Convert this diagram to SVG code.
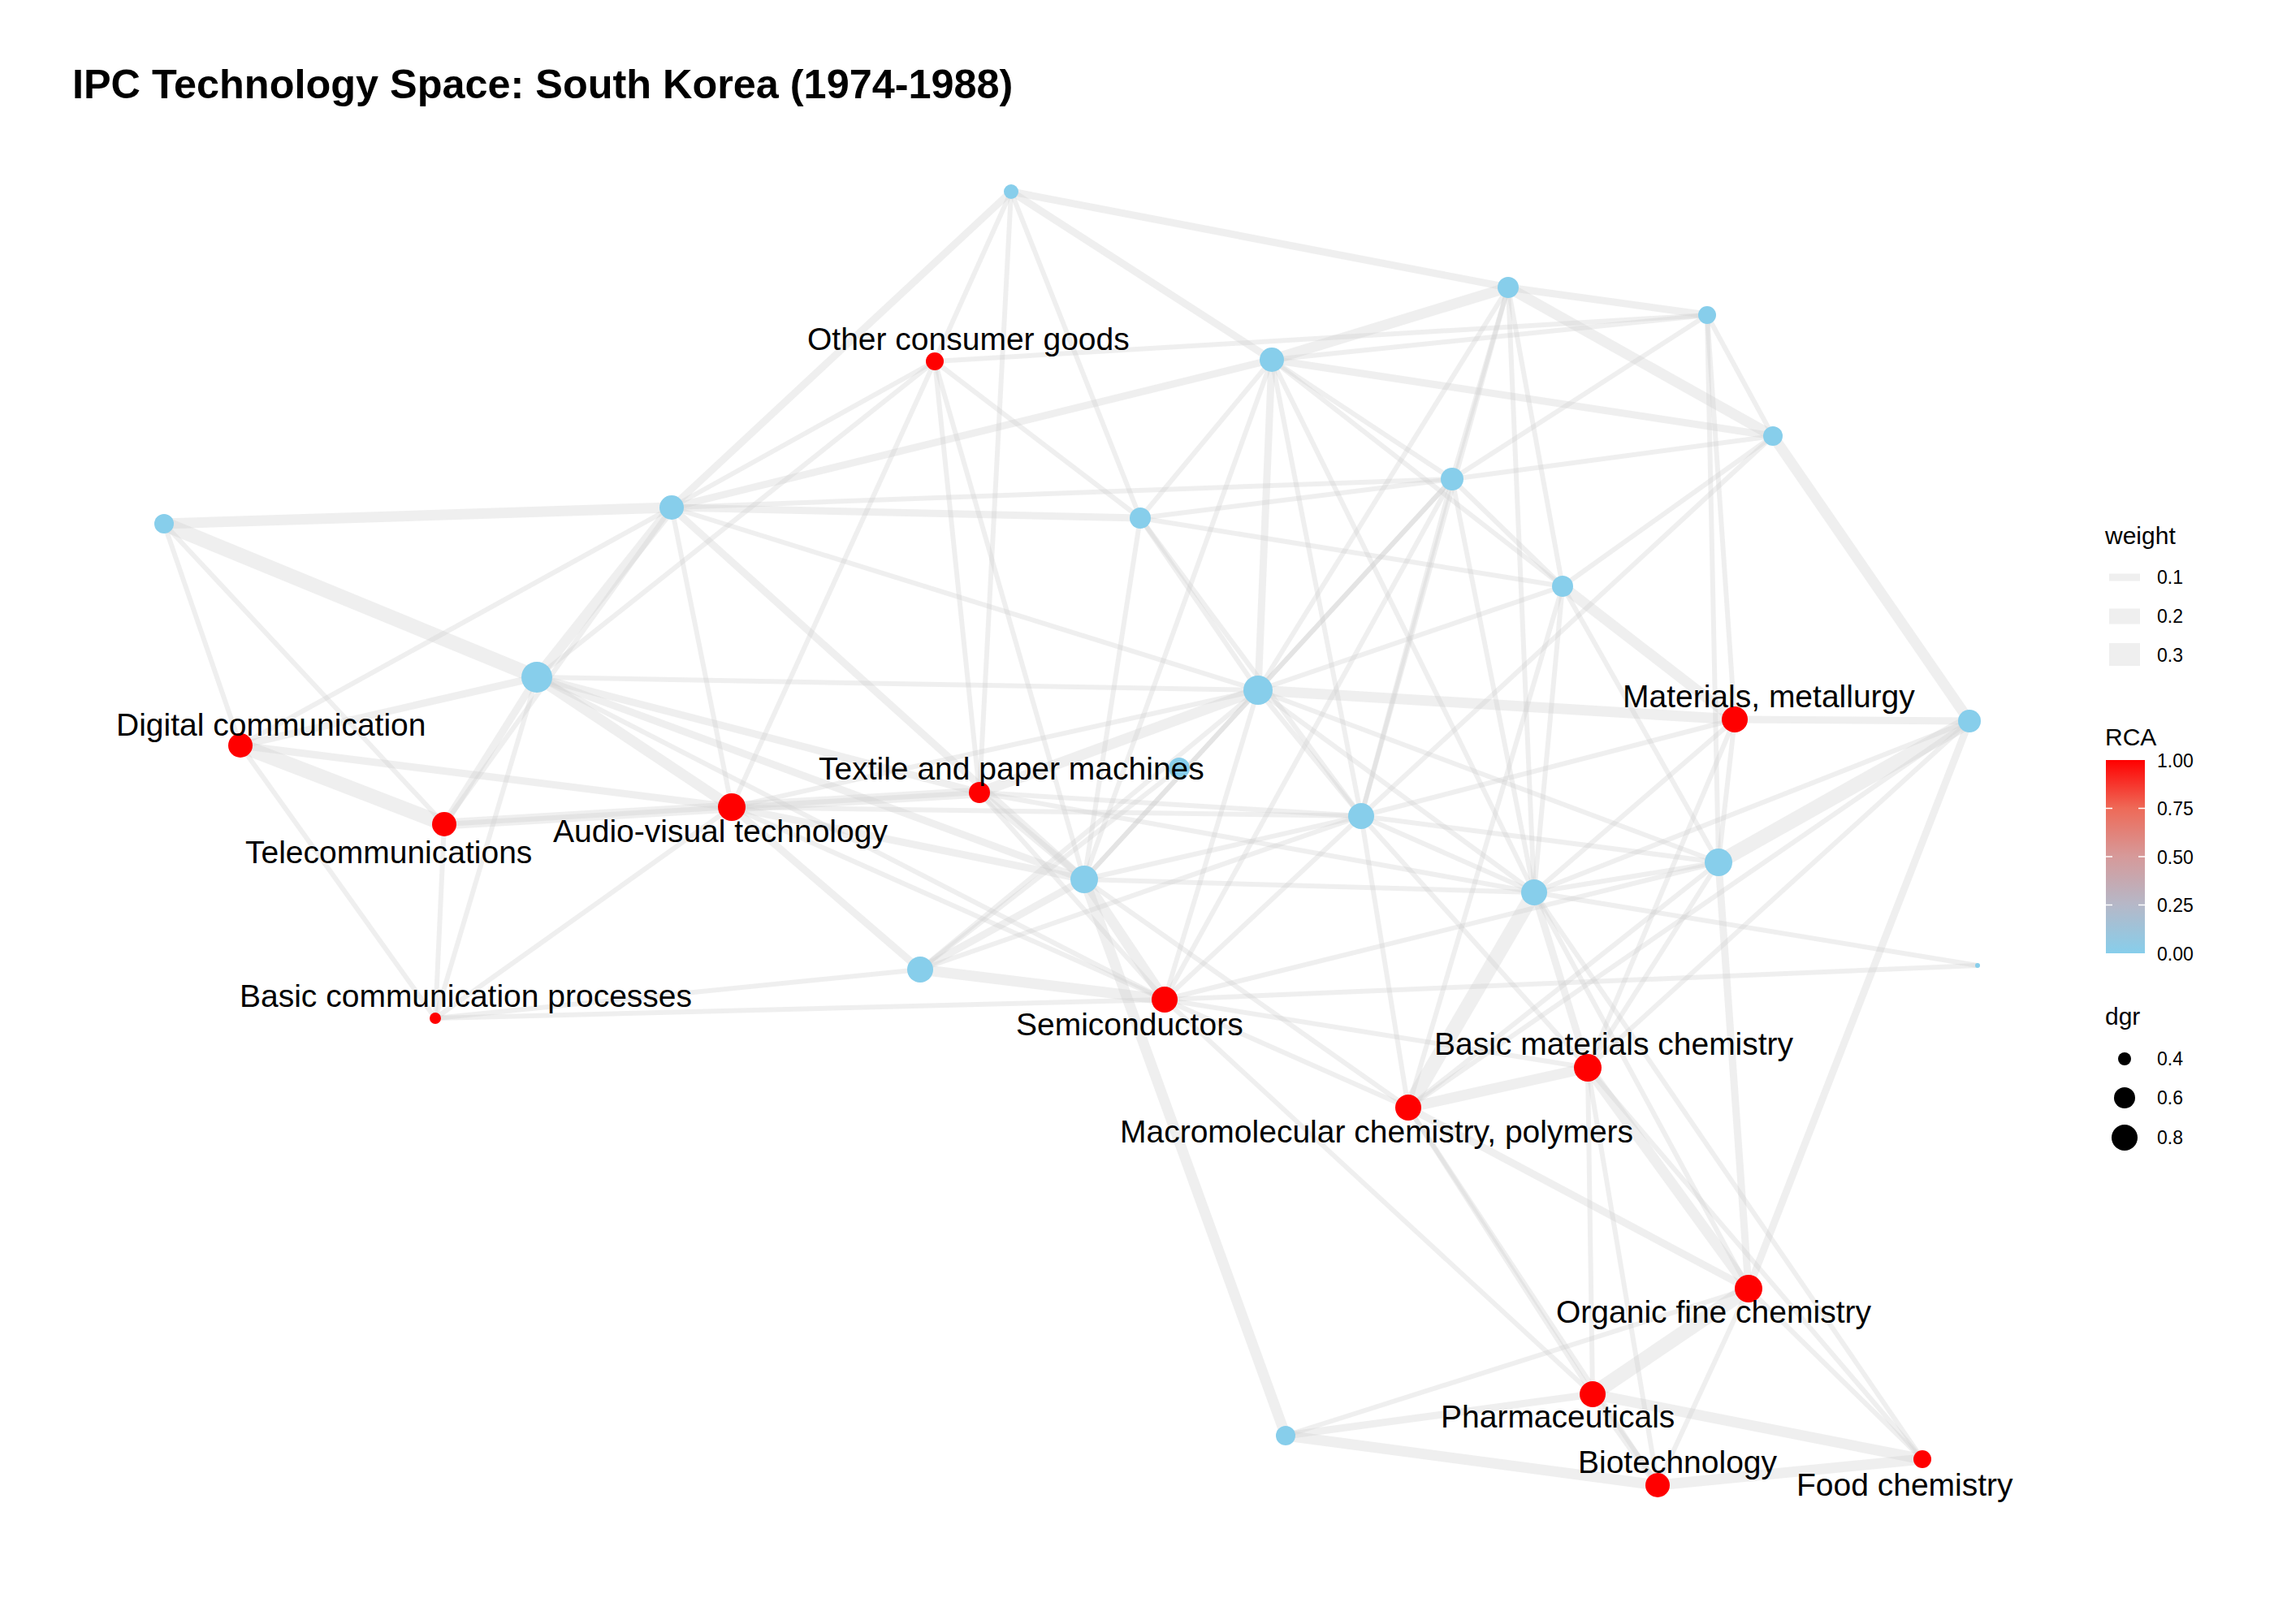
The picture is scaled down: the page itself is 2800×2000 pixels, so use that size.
<svg xmlns="http://www.w3.org/2000/svg" width="2800" height="2000" viewBox="0 0 2800 2000">
<defs>
<style>
.e{stroke:#cfcfcf;stroke-opacity:0.33;stroke-linecap:butt;fill:none}
.e1{stroke-width:6}
.e2{stroke-width:9}
.e3{stroke-width:13}
.e4{stroke-width:18}
.b{fill:#87CEEB}
.r{fill:#FF0000}
.lab{font-family:"Liberation Sans",Arial,sans-serif;font-size:39px;fill:#000}
.lt{font-family:"Liberation Sans",Arial,sans-serif;font-size:30px;fill:#000}
.ll{font-family:"Liberation Sans",Arial,sans-serif;font-size:23px;fill:#000}
</style>
<linearGradient id="rca" x1="0" y1="0" x2="0" y2="1">
<stop offset="0" stop-color="#FF0000"/>
<stop offset="0.25" stop-color="#EE6A58"/>
<stop offset="0.5" stop-color="#D69A9A"/>
<stop offset="0.75" stop-color="#B5B8C8"/>
<stop offset="1" stop-color="#87CEEB"/>
</linearGradient>
</defs>
<rect x="0" y="0" width="2800" height="2000" fill="#ffffff"/>
<text x="89" y="121" font-family="Liberation Sans, Arial, sans-serif" font-size="50.4" font-weight="bold" fill="#000">IPC Technology Space: South Korea (1974-1988)</text>
<g id="edges" class="e">
<line class="e3" x1="202" y1="645" x2="827" y2="625"/>
<line class="e4" x1="202" y1="645" x2="661" y2="834"/>
<line class="e1" x1="202" y1="645" x2="296" y2="918"/>
<line class="e1" x1="202" y1="645" x2="547" y2="1015"/>
<line class="e3" x1="827" y1="625" x2="661" y2="834"/>
<line class="e1" x1="827" y1="625" x2="547" y2="1015"/>
<line class="e1" x1="827" y1="625" x2="901" y2="994"/>
<line class="e2" x1="827" y1="625" x2="1335" y2="1083"/>
<line class="e1" x1="827" y1="625" x2="1549" y2="850"/>
<line class="e2" x1="827" y1="625" x2="1404" y2="638"/>
<line class="e1" x1="827" y1="625" x2="1788" y2="590"/>
<line class="e2" x1="827" y1="625" x2="1566" y2="443"/>
<line class="e2" x1="827" y1="625" x2="1245" y2="236"/>
<line class="e1" x1="827" y1="625" x2="1151" y2="445"/>
<line class="e2" x1="661" y1="834" x2="296" y2="918"/>
<line class="e2" x1="661" y1="834" x2="547" y2="1015"/>
<line class="e1" x1="661" y1="834" x2="536" y2="1254"/>
<line class="e3" x1="661" y1="834" x2="901" y2="994"/>
<line class="e2" x1="661" y1="834" x2="1206" y2="976"/>
<line class="e2" x1="661" y1="834" x2="1335" y2="1083"/>
<line class="e1" x1="661" y1="834" x2="1549" y2="850"/>
<line class="e1" x1="661" y1="834" x2="1434" y2="1231"/>
<line class="e1" x1="661" y1="834" x2="1151" y2="445"/>
<line class="e4" x1="296" y1="918" x2="547" y2="1015"/>
<line class="e2" x1="296" y1="918" x2="901" y2="994"/>
<line class="e1" x1="296" y1="918" x2="536" y2="1254"/>
<line class="e1" x1="296" y1="918" x2="827" y2="625"/>
<line class="e3" x1="547" y1="1015" x2="901" y2="994"/>
<line class="e1" x1="547" y1="1015" x2="536" y2="1254"/>
<line class="e1" x1="547" y1="1015" x2="1206" y2="976"/>
<line class="e1" x1="536" y1="1254" x2="1434" y2="1231"/>
<line class="e1" x1="536" y1="1254" x2="1133" y2="1194"/>
<line class="e1" x1="536" y1="1254" x2="901" y2="994"/>
<line class="e3" x1="901" y1="994" x2="1206" y2="976"/>
<line class="e2" x1="901" y1="994" x2="1133" y2="1194"/>
<line class="e2" x1="901" y1="994" x2="1335" y2="1083"/>
<line class="e1" x1="901" y1="994" x2="1434" y2="1231"/>
<line class="e1" x1="901" y1="994" x2="1549" y2="850"/>
<line class="e1" x1="901" y1="994" x2="1676" y2="1005"/>
<line class="e3" x1="1206" y1="976" x2="1549" y2="850"/>
<line class="e2" x1="1206" y1="976" x2="1335" y2="1083"/>
<line class="e1" x1="1206" y1="976" x2="1434" y2="1231"/>
<line class="e1" x1="1206" y1="976" x2="1676" y2="1005"/>
<line class="e1" x1="1206" y1="976" x2="1889" y2="1099"/>
<line class="e2" x1="1133" y1="1194" x2="1335" y2="1083"/>
<line class="e3" x1="1133" y1="1194" x2="1434" y2="1231"/>
<line class="e1" x1="1133" y1="1194" x2="1549" y2="850"/>
<line class="e1" x1="1133" y1="1194" x2="1676" y2="1005"/>
<line class="e1" x1="1133" y1="1194" x2="1452" y2="946"/>
<line class="e3" x1="1335" y1="1083" x2="1434" y2="1231"/>
<line class="e1" x1="1335" y1="1083" x2="1549" y2="850"/>
<line class="e1" x1="1335" y1="1083" x2="1676" y2="1005"/>
<line class="e1" x1="1335" y1="1083" x2="1889" y2="1099"/>
<line class="e1" x1="1335" y1="1083" x2="1734" y2="1364"/>
<line class="e3" x1="1335" y1="1083" x2="1583" y2="1768"/>
<line class="e1" x1="1335" y1="1083" x2="1788" y2="590"/>
<line class="e1" x1="1434" y1="1231" x2="1734" y2="1364"/>
<line class="e1" x1="1434" y1="1231" x2="1549" y2="850"/>
<line class="e1" x1="1434" y1="1231" x2="1676" y2="1005"/>
<line class="e1" x1="1434" y1="1231" x2="2116" y2="1062"/>
<line class="e1" x1="1434" y1="1231" x2="1955" y2="1315"/>
<line class="e1" x1="1434" y1="1231" x2="2435" y2="1189"/>
<line class="e1" x1="1434" y1="1231" x2="1961" y2="1717"/>
<line class="e2" x1="1549" y1="850" x2="1566" y2="443"/>
<line class="e1" x1="1549" y1="850" x2="1404" y2="638"/>
<line class="e1" x1="1549" y1="850" x2="1788" y2="590"/>
<line class="e1" x1="1549" y1="850" x2="1857" y2="354"/>
<line class="e1" x1="1549" y1="850" x2="1676" y2="1005"/>
<line class="e3" x1="1549" y1="850" x2="2136" y2="886"/>
<line class="e1" x1="1549" y1="850" x2="2116" y2="1062"/>
<line class="e1" x1="1549" y1="850" x2="1889" y2="1099"/>
<line class="e1" x1="1549" y1="850" x2="1924" y2="722"/>
<line class="e3" x1="1566" y1="443" x2="1857" y2="354"/>
<line class="e1" x1="1566" y1="443" x2="2102" y2="388"/>
<line class="e2" x1="1566" y1="443" x2="2183" y2="537"/>
<line class="e1" x1="1566" y1="443" x2="1404" y2="638"/>
<line class="e1" x1="1566" y1="443" x2="1788" y2="590"/>
<line class="e1" x1="1566" y1="443" x2="1889" y2="1099"/>
<line class="e1" x1="1566" y1="443" x2="1924" y2="722"/>
<line class="e1" x1="1566" y1="443" x2="1676" y2="1005"/>
<line class="e1" x1="1566" y1="443" x2="1335" y2="1083"/>
<line class="e2" x1="1857" y1="354" x2="2102" y2="388"/>
<line class="e3" x1="1857" y1="354" x2="2183" y2="537"/>
<line class="e1" x1="1857" y1="354" x2="1788" y2="590"/>
<line class="e1" x1="1857" y1="354" x2="1924" y2="722"/>
<line class="e1" x1="1857" y1="354" x2="1889" y2="1099"/>
<line class="e1" x1="1857" y1="354" x2="1676" y2="1005"/>
<line class="e1" x1="2102" y1="388" x2="2183" y2="537"/>
<line class="e1" x1="2102" y1="388" x2="2136" y2="886"/>
<line class="e1" x1="2102" y1="388" x2="2116" y2="1062"/>
<line class="e1" x1="2102" y1="388" x2="1788" y2="590"/>
<line class="e3" x1="2183" y1="537" x2="2425" y2="888"/>
<line class="e1" x1="2183" y1="537" x2="1924" y2="722"/>
<line class="e1" x1="2183" y1="537" x2="1676" y2="1005"/>
<line class="e1" x1="2183" y1="537" x2="1788" y2="590"/>
<line class="e1" x1="1788" y1="590" x2="1924" y2="722"/>
<line class="e1" x1="1788" y1="590" x2="1889" y2="1099"/>
<line class="e1" x1="1788" y1="590" x2="1676" y2="1005"/>
<line class="e1" x1="1788" y1="590" x2="1434" y2="1231"/>
<line class="e3" x1="1924" y1="722" x2="2136" y2="886"/>
<line class="e1" x1="1924" y1="722" x2="2116" y2="1062"/>
<line class="e1" x1="1924" y1="722" x2="1889" y2="1099"/>
<line class="e1" x1="1924" y1="722" x2="1734" y2="1364"/>
<line class="e1" x1="1404" y1="638" x2="1676" y2="1005"/>
<line class="e1" x1="1404" y1="638" x2="1924" y2="722"/>
<line class="e1" x1="1404" y1="638" x2="1335" y2="1083"/>
<line class="e1" x1="1404" y1="638" x2="1788" y2="590"/>
<line class="e2" x1="2136" y1="886" x2="2425" y2="888"/>
<line class="e1" x1="2136" y1="886" x2="2116" y2="1062"/>
<line class="e1" x1="2136" y1="886" x2="1676" y2="1005"/>
<line class="e1" x1="2136" y1="886" x2="1889" y2="1099"/>
<line class="e1" x1="2136" y1="886" x2="1955" y2="1315"/>
<line class="e4" x1="2425" y1="888" x2="2116" y2="1062"/>
<line class="e2" x1="2425" y1="888" x2="2153" y2="1587"/>
<line class="e1" x1="2425" y1="888" x2="1955" y2="1315"/>
<line class="e1" x1="2425" y1="888" x2="1734" y2="1364"/>
<line class="e1" x1="2425" y1="888" x2="1889" y2="1099"/>
<line class="e1" x1="2116" y1="1062" x2="1889" y2="1099"/>
<line class="e1" x1="2116" y1="1062" x2="1955" y2="1315"/>
<line class="e2" x1="2116" y1="1062" x2="2153" y2="1587"/>
<line class="e1" x1="2116" y1="1062" x2="1734" y2="1364"/>
<line class="e1" x1="2116" y1="1062" x2="1676" y2="1005"/>
<line class="e2" x1="1889" y1="1099" x2="1955" y2="1315"/>
<line class="e4" x1="1889" y1="1099" x2="1734" y2="1364"/>
<line class="e1" x1="1889" y1="1099" x2="1676" y2="1005"/>
<line class="e1" x1="1889" y1="1099" x2="2153" y2="1587"/>
<line class="e1" x1="1889" y1="1099" x2="2435" y2="1189"/>
<line class="e1" x1="1889" y1="1099" x2="2367" y2="1797"/>
<line class="e1" x1="1676" y1="1005" x2="1734" y2="1364"/>
<line class="e1" x1="1676" y1="1005" x2="1955" y2="1315"/>
<line class="e3" x1="1955" y1="1315" x2="1734" y2="1364"/>
<line class="e3" x1="1955" y1="1315" x2="2153" y2="1587"/>
<line class="e1" x1="1955" y1="1315" x2="1961" y2="1717"/>
<line class="e1" x1="1955" y1="1315" x2="2041" y2="1829"/>
<line class="e1" x1="1955" y1="1315" x2="2367" y2="1797"/>
<line class="e2" x1="1734" y1="1364" x2="2153" y2="1587"/>
<line class="e1" x1="1734" y1="1364" x2="1961" y2="1717"/>
<line class="e1" x1="1734" y1="1364" x2="2041" y2="1829"/>
<line class="e4" x1="2153" y1="1587" x2="1961" y2="1717"/>
<line class="e1" x1="2153" y1="1587" x2="2041" y2="1829"/>
<line class="e1" x1="2153" y1="1587" x2="2367" y2="1797"/>
<line class="e1" x1="2153" y1="1587" x2="1583" y2="1768"/>
<line class="e2" x1="1961" y1="1717" x2="2041" y2="1829"/>
<line class="e3" x1="1961" y1="1717" x2="2367" y2="1797"/>
<line class="e2" x1="1961" y1="1717" x2="1583" y2="1768"/>
<line class="e3" x1="2041" y1="1829" x2="1583" y2="1768"/>
<line class="e3" x1="2041" y1="1829" x2="2367" y2="1797"/>
<line class="e2" x1="1245" y1="236" x2="1857" y2="354"/>
<line class="e2" x1="1245" y1="236" x2="1566" y2="443"/>
<line class="e1" x1="1245" y1="236" x2="1404" y2="638"/>
<line class="e1" x1="1245" y1="236" x2="1151" y2="445"/>
<line class="e1" x1="1245" y1="236" x2="1206" y2="976"/>
<line class="e1" x1="1151" y1="445" x2="2102" y2="388"/>
<line class="e1" x1="1151" y1="445" x2="901" y2="994"/>
<line class="e1" x1="1151" y1="445" x2="1206" y2="976"/>
<line class="e1" x1="1151" y1="445" x2="1404" y2="638"/>
<line class="e1" x1="1151" y1="445" x2="1335" y2="1083"/>
</g>
<g id="node-B1"><circle class="b" cx="1245" cy="236" r="9"/></g>
<g id="node-B2"><circle class="b" cx="1857" cy="354" r="13"/></g>
<g id="node-B3"><circle class="b" cx="2102" cy="388" r="11"/></g>
<g id="node-B4"><circle class="b" cx="1566" cy="443" r="15"/></g>
<g id="node-B5"><circle class="b" cx="2183" cy="537" r="12"/></g>
<g id="node-B6"><circle class="b" cx="202" cy="645" r="12"/></g>
<g id="node-B7"><circle class="b" cx="827" cy="625" r="15"/></g>
<g id="node-B8"><circle class="b" cx="1404" cy="638" r="13"/></g>
<g id="node-B9"><circle class="b" cx="1788" cy="590" r="14"/></g>
<g id="node-B10"><circle class="b" cx="1924" cy="722" r="13"/></g>
<g id="node-B11"><circle class="b" cx="661" cy="834" r="19"/></g>
<g id="node-B12"><circle class="b" cx="1549" cy="850" r="18"/></g>
<g id="node-B13"><circle class="b" cx="2425" cy="888" r="14"/></g>
<g id="node-B14"><circle class="b" cx="1452" cy="946" r="13"/></g>
<g id="node-B15"><circle class="b" cx="1676" cy="1005" r="16"/></g>
<g id="node-B16"><circle class="b" cx="1335" cy="1083" r="17"/></g>
<g id="node-B17"><circle class="b" cx="1889" cy="1099" r="16"/></g>
<g id="node-B18"><circle class="b" cx="2116" cy="1062" r="17"/></g>
<g id="node-B19"><circle class="b" cx="1133" cy="1194" r="16"/></g>
<g id="node-B20"><circle class="b" cx="2435" cy="1189" r="3"/></g>
<g id="node-B21"><circle class="b" cx="1583" cy="1768" r="12"/></g>
<g id="node-other-consumer-goods"><circle class="r" cx="1151" cy="445" r="11"/></g>
<g id="node-digital-communication"><circle class="r" cx="296" cy="918" r="15"/></g>
<g id="node-telecommunications"><circle class="r" cx="547" cy="1015" r="15"/></g>
<g id="node-audio-visual"><circle class="r" cx="901" cy="994" r="17"/></g>
<g id="node-textile"><circle class="r" cx="1206" cy="976" r="13"/></g>
<g id="node-materials"><circle class="r" cx="2136" cy="886" r="16"/></g>
<g id="node-basic-comm"><circle class="r" cx="536" cy="1254" r="7"/></g>
<g id="node-semiconductors"><circle class="r" cx="1434" cy="1231" r="16"/></g>
<g id="node-basic-materials"><circle class="r" cx="1955" cy="1315" r="17"/></g>
<g id="node-macromolecular"><circle class="r" cx="1734" cy="1364" r="16"/></g>
<g id="node-organic"><circle class="r" cx="2153" cy="1587" r="17"/></g>
<g id="node-pharma"><circle class="r" cx="1961" cy="1717" r="16"/></g>
<g id="node-biotech"><circle class="r" cx="2041" cy="1829" r="15"/></g>
<g id="node-food"><circle class="r" cx="2367" cy="1797" r="11"/></g>
<g id="labels">
<text class="lab" x="994" y="431">Other consumer goods</text>
<text class="lab" x="143" y="906">Digital communication</text>
<text class="lab" x="302" y="1063">Telecommunications</text>
<text class="lab" x="681" y="1037">Audio-visual technology</text>
<text class="lab" x="1008" y="960">Textile and paper machines</text>
<text class="lab" x="295" y="1240">Basic communication processes</text>
<text class="lab" x="1251" y="1275">Semiconductors</text>
<text class="lab" x="1998" y="871">Materials, metallurgy</text>
<text class="lab" x="1766" y="1299">Basic materials chemistry</text>
<text class="lab" x="1379" y="1407">Macromolecular chemistry, polymers</text>
<text class="lab" x="1916" y="1629">Organic fine chemistry</text>
<text class="lab" x="1774" y="1758">Pharmaceuticals</text>
<text class="lab" x="1943" y="1814">Biotechnology</text>
<text class="lab" x="2212" y="1842">Food chemistry</text>
</g>
<g id="legend">
<text class="lt" x="2592" y="670">weight</text>
<line class="e e2" x1="2597" y1="711" x2="2635" y2="711"/>
<line class="e" stroke-width="19" x1="2597" y1="759" x2="2635" y2="759"/>
<line class="e" stroke-width="28" x1="2597" y1="806" x2="2635" y2="806"/>
<text class="ll" x="2656" y="719">0.1</text>
<text class="ll" x="2656" y="767">0.2</text>
<text class="ll" x="2656" y="815">0.3</text>
<text class="lt" x="2592" y="918">RCA</text>
<rect x="2593" y="936" width="48" height="238" fill="url(#rca)"/>
<g stroke="#ffffff" stroke-width="1.5">
<line x1="2593" y1="995.5" x2="2601" y2="995.5"/><line x1="2633" y1="995.5" x2="2641" y2="995.5"/>
<line x1="2593" y1="1055" x2="2601" y2="1055"/><line x1="2633" y1="1055" x2="2641" y2="1055"/>
<line x1="2593" y1="1114.5" x2="2601" y2="1114.5"/><line x1="2633" y1="1114.5" x2="2641" y2="1114.5"/>
</g>
<text class="ll" x="2656" y="945">1.00</text>
<text class="ll" x="2656" y="1004">0.75</text>
<text class="ll" x="2656" y="1064">0.50</text>
<text class="ll" x="2656" y="1123">0.25</text>
<text class="ll" x="2656" y="1183">0.00</text>
<text class="lt" x="2592" y="1262">dgr</text>
<circle cx="2616" cy="1304" r="8" fill="#000"/>
<circle cx="2616" cy="1352" r="13" fill="#000"/>
<circle cx="2616" cy="1401" r="16" fill="#000"/>
<text class="ll" x="2656" y="1312">0.4</text>
<text class="ll" x="2656" y="1360">0.6</text>
<text class="ll" x="2656" y="1409">0.8</text>
</g>
</svg>
